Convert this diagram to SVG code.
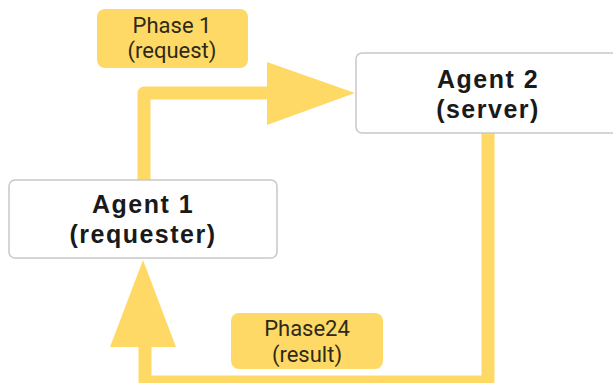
<svg xmlns="http://www.w3.org/2000/svg" width="613" height="383" viewBox="0 0 613 383">
  <style>
    .node rect { fill: #ffffff; stroke: #c8c8c8; stroke-width: 1.5; }
    .node text { font-family: "Liberation Sans", Arial, sans-serif; font-weight: bold; font-size: 25px; letter-spacing: 1.5px; fill: #1a1a1a; text-anchor: middle; }
    .tag rect { fill: #ffd966; }
    .tag text { font-family: Roboto, "Liberation Sans", sans-serif; font-size: 22px; fill: #2e2a18; text-anchor: middle; }
    .flow { fill: none; stroke: #ffd966; stroke-width: 13; stroke-linejoin: round; }
    .head { fill: #ffd966; }
  </style>

  <!-- connectors -->
  <g id="connectors">
    <path class="flow" d="M144,180 V93 H270"/>
    <polygon class="head" points="267,62 355,93 267,125"/>
    <path class="flow" d="M488,133 V382 H145 V345"/>
    <polygon class="head" points="110,347 143,260 176,347"/>
  </g>

  <g id="agent2" class="node">
    <rect x="356" y="53" width="262" height="80" rx="6"/>
    <text x="488" y="88">Agent 2</text>
    <text x="488" y="118">(server)</text>
  </g>

  <g id="agent1" class="node">
    <rect x="9" y="180" width="268" height="78" rx="6"/>
    <text x="143" y="213">Agent 1</text>
    <text x="143" y="243">(requester)</text>
  </g>

  <g id="phase1" class="tag">
    <rect x="97" y="9" width="151" height="59" rx="8"/>
    <text x="172" y="33">Phase 1</text>
    <text x="172" y="58">(request)</text>
  </g>

  <g id="phase24" class="tag">
    <rect x="231" y="313" width="152" height="56" rx="8"/>
    <text x="307" y="336">Phase24</text>
    <text x="307" y="362">(result)</text>
  </g>
</svg>
